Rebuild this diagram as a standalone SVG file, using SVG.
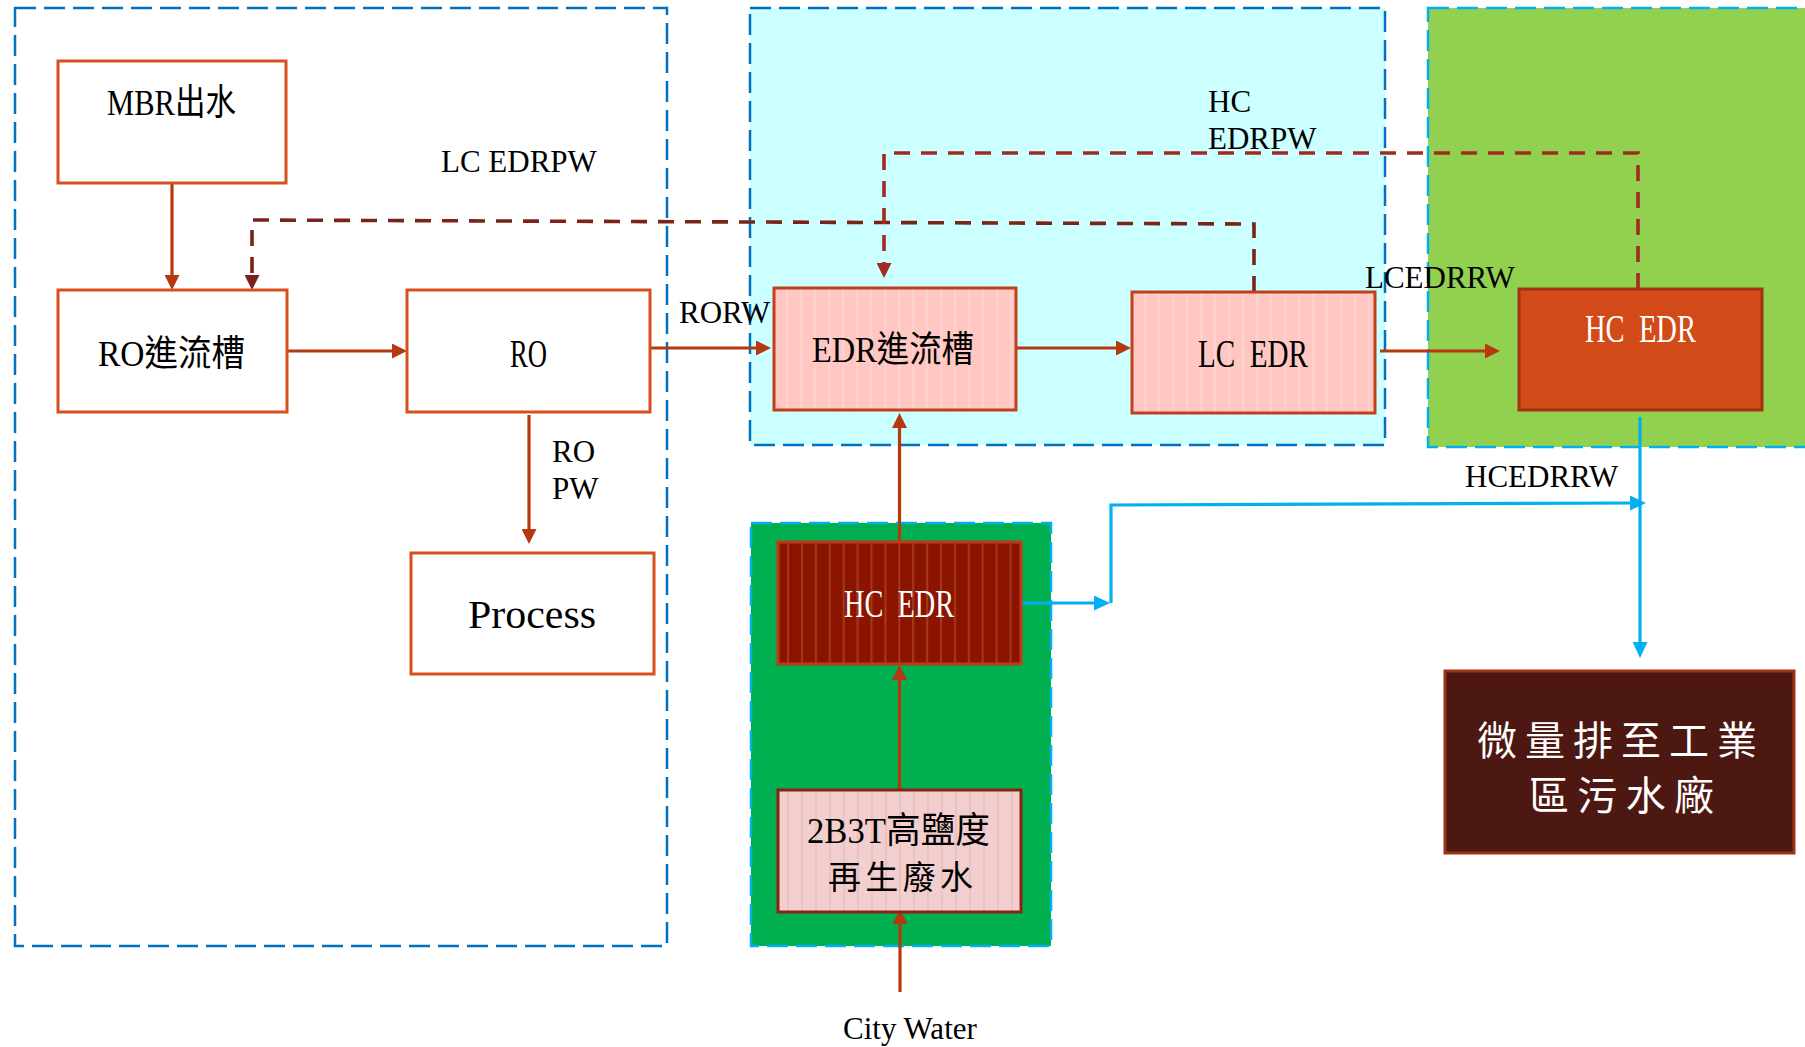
<svg xmlns="http://www.w3.org/2000/svg" width="1805" height="1047" viewBox="0 0 1805 1047">
<style>
.cont{stroke-width:2.5;stroke-dasharray:21 8}
.wbox{fill:#ffffff;stroke:#D5501F;stroke-width:3}
.nl{font-family:"Liberation Serif","Noto Sans CJK TC",serif;font-size:40px;fill:#000}
.mx{font-size:36px}
.cjk{font-family:"Noto Sans CJK TC","Noto Sans CJK SC",sans-serif;font-size:33px}
.el{font-family:"Liberation Serif","Times New Roman",serif;font-size:31px;fill:#000}
.w{fill:#ffffff}
.ar{fill:none;stroke:#B5380E;stroke-width:3.2}
.bl{fill:none;stroke:#00B0F0;stroke-width:3.2}
.dsh{fill:none;stroke-width:3.6;stroke-dasharray:16 11}
</style>
<defs>
<marker id="aO" viewBox="0 0 15 15" refX="5" refY="7.5" markerWidth="15" markerHeight="15" markerUnits="userSpaceOnUse" orient="auto"><path d="M0,0 L15,7.5 L0,15 z" fill="#B5380E"/></marker>
<marker id="aD" viewBox="0 0 15 15" refX="5" refY="7.5" markerWidth="15" markerHeight="15" markerUnits="userSpaceOnUse" orient="auto"><path d="M0,0 L15,7.5 L0,15 z" fill="#7B2318"/></marker>
<marker id="aR" viewBox="0 0 15 15" refX="5" refY="7.5" markerWidth="15" markerHeight="15" markerUnits="userSpaceOnUse" orient="auto"><path d="M0,0 L15,7.5 L0,15 z" fill="#A02B1E"/></marker>
<marker id="aB" viewBox="0 0 16 15" refX="6" refY="7.5" markerWidth="16" markerHeight="15" markerUnits="userSpaceOnUse" orient="auto"><path d="M0,0 L16,7.5 L0,15 z" fill="#00B0F0"/></marker>
<pattern id="pPink" patternUnits="userSpaceOnUse" x="786" y="0" width="14" height="20"><rect width="14" height="20" fill="#FFC6C2"/><rect width="2.5" height="20" fill="#FFD1CD"/></pattern>
<pattern id="pPink2" patternUnits="userSpaceOnUse" x="1144" y="0" width="14" height="20"><rect width="14" height="20" fill="#FFC6C2"/><rect width="2.5" height="20" fill="#FFD1CD"/></pattern>
<pattern id="pDark" patternUnits="userSpaceOnUse" x="787" y="0" width="13.9" height="20"><rect width="13.9" height="20" fill="#8A1400"/><rect width="2.2" height="20" fill="#A5361A"/></pattern>
<pattern id="pLight" patternUnits="userSpaceOnUse" x="787" y="0" width="14" height="20"><rect width="14" height="20" fill="#F2CECE"/><rect width="2" height="20" fill="#E9C2C2"/></pattern>
</defs>

<g id="containers">
<rect class="cont" x="15" y="8" width="652" height="938" fill="none" stroke="#0070C0"/>
<rect class="cont" x="750" y="8" width="635" height="437" fill="#CCFFFF" stroke="#0070C0"/>
<rect class="cont" x="1428" y="8" width="380" height="439" fill="#92D050" stroke="#00B0F0"/>
<rect class="cont" x="751" y="523" width="300" height="423" fill="#00B050" stroke="#00B0F0"/>
</g>

<g id="connectors">
<path class="ar" d="M172,183 V280" marker-end="url(#aO)"/>
<path class="ar" d="M287,351 H397" marker-end="url(#aO)"/>
<path class="ar" d="M650,348 H761" marker-end="url(#aO)"/>
<path class="ar" d="M1016,348 H1121" marker-end="url(#aO)"/>
<path class="ar" d="M1380,351 H1490" marker-end="url(#aO)"/>
<path class="ar" d="M529,415 V534" marker-end="url(#aO)"/>
<path class="ar" d="M899.5,542 V423" marker-end="url(#aO)"/>
<path class="ar" d="M899.5,790 V675" marker-end="url(#aO)"/>
<path class="ar" d="M900,992 V919" marker-end="url(#aO)"/>
<path class="dsh" stroke="#7B2318" d="M1254,292 V224 L252,220 V280" marker-end="url(#aD)"/>
<path class="dsh" stroke="#A02B1E" d="M1638,289 V153 H884 V268" marker-end="url(#aR)"/>
<path class="bl" d="M1021,603 H1100" marker-end="url(#aB)"/>
<path class="bl" d="M1111,603 V505 L1636,503" marker-end="url(#aB)"/>
<path class="bl" d="M1640,417 V648" marker-end="url(#aB)"/>
<text class="el" x="441" y="172">LC EDRPW</text>
<text class="el" x="1208" y="112">HC</text>
<text class="el" x="1208" y="149">EDRPW</text>
<text class="el" x="679" y="323">RORW</text>
<text class="el" x="1365" y="288">LCEDRRW</text>
<text class="el" x="1465" y="487">HCEDRRW</text>
<text class="el" x="552" y="462">RO</text>
<text class="el" x="552" y="499">PW</text>
<text class="el" x="843" y="1039">City Water</text>
</g>

<g id="n-mbr">
<rect class="wbox" x="58" y="61" width="228" height="122"/>
<text class="nl mx" x="107" y="115" textLength="129" lengthAdjust="spacingAndGlyphs">MBR出水</text>
</g>
<g id="n-rotank">
<rect class="wbox" x="58" y="290" width="229" height="122"/>
<text class="nl mx" x="98" y="366" textLength="147" lengthAdjust="spacingAndGlyphs">RO進流槽</text>
</g>
<g id="n-ro">
<rect class="wbox" x="407" y="290" width="243" height="122"/>
<text class="nl" x="510" y="367" textLength="37" lengthAdjust="spacingAndGlyphs">RO</text>
</g>
<g id="n-process">
<rect class="wbox" x="411" y="553" width="243" height="121"/>
<text class="nl" x="468" y="628" textLength="128" lengthAdjust="spacingAndGlyphs">Process</text>
</g>
<g id="n-edrtank">
<rect x="774" y="288" width="242" height="122" fill="url(#pPink)" stroke="#C0401C" stroke-width="3"/>
<text class="nl mx" x="812" y="362" textLength="162" lengthAdjust="spacingAndGlyphs">EDR進流槽</text>
</g>
<g id="n-lcedr">
<rect x="1132" y="292" width="243" height="121" fill="url(#pPink2)" stroke="#C0401C" stroke-width="3"/>
<text class="nl" x="1198" y="367" textLength="110" lengthAdjust="spacingAndGlyphs" xml:space="preserve">LC  EDR</text>
</g>
<g id="n-hcedr-top">
<rect x="1519" y="289" width="243" height="121" fill="#D24A18" stroke="#A33214" stroke-width="3"/>
<text class="nl w" x="1585" y="342" textLength="111" lengthAdjust="spacingAndGlyphs" xml:space="preserve">HC  EDR</text>
</g>
<g id="n-hcedr-low">
<rect x="778" y="542" width="243" height="122" fill="url(#pDark)" stroke="#C03A18" stroke-width="3"/>
<text class="nl w" x="844" y="617" textLength="110" lengthAdjust="spacingAndGlyphs" xml:space="preserve">HC  EDR</text>
</g>
<g id="n-2b3t">
<rect x="778" y="790" width="243" height="122" fill="url(#pLight)" stroke="#8B2212" stroke-width="3"/>
<text class="nl mx" x="807" y="843" textLength="183" lengthAdjust="spacingAndGlyphs">2B3T高鹽度</text>
<text class="nl cjk" x="828" y="889" textLength="145" lengthAdjust="spacing">再生廢水</text>
</g>
<g id="n-discharge">
<rect x="1445" y="671" width="349" height="182" fill="#4E1812" stroke="#9C3414" stroke-width="3"/>
<text class="nl cjk w" x="1477" y="755" textLength="280" lengthAdjust="spacing" style="font-size:40px">微量排至工業</text>
<text class="nl cjk w" x="1529" y="810" textLength="185" lengthAdjust="spacing" style="font-size:40px">區污水廠</text>
</g>
</svg>
